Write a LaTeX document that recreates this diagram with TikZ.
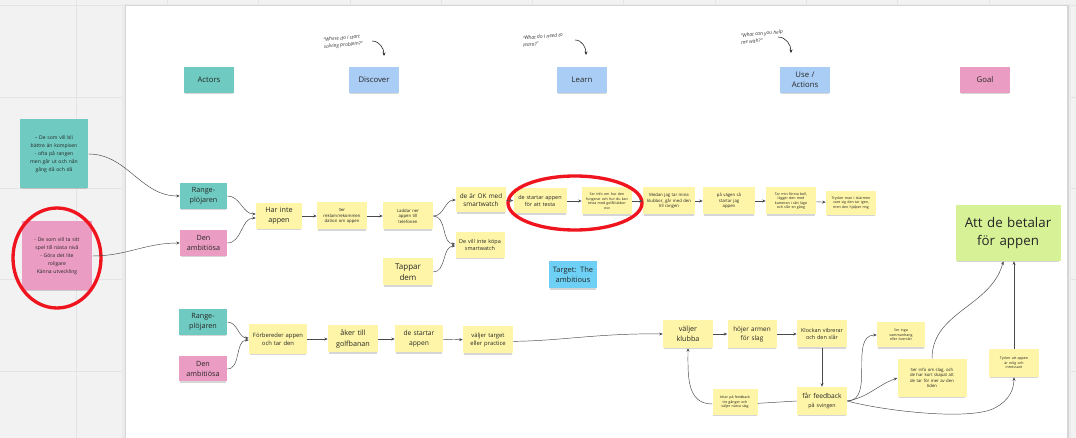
\documentclass[tikz,border=0pt]{standalone}
\usepackage{fontspec}
\setmainfont{Open Sans}
\usetikzlibrary{arrows.meta,shadows}

\definecolor{stTeal}{HTML}{6FCBC1}
\definecolor{stBlue}{HTML}{A9CDF4}
\definecolor{stPink}{HTML}{EA9CC2}
\definecolor{stYellow}{HTML}{FEF5A8}
\definecolor{stGreen}{HTML}{D6F196}
\definecolor{stCyan}{HTML}{6DD0F4}
\definecolor{canvasGray}{HTML}{F2F2F2}
\definecolor{gridGray}{HTML}{E4E4E4}
\definecolor{inkGray}{HTML}{4A4A4A}
\definecolor{txtGray}{HTML}{262626}
\definecolor{markRed}{HTML}{F0141E}

\begin{document}
\begin{tikzpicture}[x=0.75pt,y=-0.75pt,
  sticky/.style={rectangle, inner sep=0.8pt, align=center, text=txtGray,
    drop shadow={shadow xshift=0pt,shadow yshift=-1.3pt,shadow scale=0.97,opacity=0.16,fill=black}},
  wh/.style 2 args={minimum width=#1*0.75pt, minimum height=#2*0.75pt, text width=#1*0.75pt-2pt},
  yel/.style={sticky, fill=stYellow},
  tea/.style={sticky, fill=stTeal},
  blu/.style={sticky, fill=stBlue},
  pnk/.style={sticky, fill=stPink},
  fHead/.style={font=\fontsize{5.8}{7.2}\selectfont},
  fMid/.style={font=\fontsize{5.4}{7.6}\selectfont},
  fSm/.style={font=\fontsize{4.1}{5.4}\selectfont},
  fXs/.style={font=\fontsize{3.2}{4.1}\selectfont},
  fTiny/.style={font=\fontsize{2.7}{3.4}\selectfont},
  link/.style={draw=inkGray, line width=0.35pt, -{Stealth[length=2.6pt,width=2.2pt]}},
  plain/.style={draw=inkGray, line width=0.35pt},
  hand/.style={font=\fontsize{3.7}{5.2}\selectfont\itshape, text=black!80, align=left, rotate=5, inner sep=0pt},
  handarrow/.style={draw=black!85, line width=0.45pt, -{Stealth[length=2.6pt,width=2.2pt]}},
  ring/.style={draw=markRed, line width=2.5pt}
]
\useasboundingbox (0,0) rectangle (1076,438);

% canvas with grid
\fill[canvasGray] (0,0) rectangle (1076,438);
\foreach \gx in {0,...,11} \draw[gridGray, line width=0.5pt] (76+91.3*\gx,0) -- (76+91.3*\gx,438);
\foreach \gy in {0,...,4} \draw[gridGray, line width=0.5pt] (0,5.7+91.3*\gy) -- (1076,5.7+91.3*\gy);

% board
\fill[black!8] (122,4) rectangle (1071,440);
\fill[black!16] (124.5,5.2) rectangle (1068.5,440);
\fill[white] (126,6) rectangle (1067,440);

% column headers
\node[tea, fHead, wh={50}{26}] (actors) at (209,80) {Actors};
\node[blu, fHead, wh={50}{26}] (discover) at (374,80) {Discover};
\node[blu, fHead, wh={50}{26}] (learn) at (582,80) {Learn};
\node[blu, fHead, wh={50}{26}] (use) at (805,80) {Use /\\Actions};
\node[pnk, fHead, wh={50}{26}] (goal) at (985,80) {Goal};

% handwritten questions
\node[hand] (q1) at (343,42) {“Where do I start\\ solving problem?”};
\coordinate (q1e) at (384,56);
\draw[handarrow] (372,41) to[out=0,in=90] (q1e);
\node[hand] (q2) at (543,40) {“What do I need to\\ learn?”};
\coordinate (q2e) at (586,55);
\draw[handarrow] (575,40) to[out=0,in=90] (q2e);
\node[hand] (q3) at (762,37) {“What can you help\\ me with?”};
\coordinate (q3e) at (791,53);
\draw[handarrow] (778,37) to[out=0,in=90] (q3e);

% persona notes
\node[tea, font=\fontsize{3.8}{6}\selectfont, wh={68}{69}] (tealNote) at (54,154)
  {– De som vill bli\\bättre än kompisen\\- ofta på rangen\\men går ut och nån\\gång då och då};
\node[pnk, font=\fontsize{3.8}{6}\selectfont, wh={70}{69}] (pinkNote) at (57,256)
  {- De som vill ta sitt\\spel till nästa nivå\\- Göra det lite\\roligare\\Känna utveckling};
\draw[ring] (57,258) ellipse [x radius=44, y radius=50];

% top journey
\node[tea, fMid, wh={47}{26}] (rp1) at (203.5,196) {Range-\\plöjaren};
\node[pnk, fMid, wh={47}{26}] (da1) at (203.5,243) {Den\\ambitiösa};
\node[yel, fMid, wh={46}{26}] (har) at (279,216) {Har inte\\appen};
\node[yel, fXs, wh={50}{27}] (reklam) at (342,216) {Ser\\reklam/rekommen\\dation om appen};
\node[yel, fXs, wh={50}{27}] (laddar) at (408,216) {Laddar ner\\appen till\\telefonen};
\node[yel, font=\fontsize{6}{8}\selectfont, wh={50}{27}] (tappar) at (408,272) {Tappar\\dem};
\node[yel, font=\fontsize{4.8}{6.4}\selectfont, wh={50}{25}] (okw) at (481,200) {de är OK med\\smartwatch};
\node[yel, fSm, wh={49}{26}] (nokw) at (480,245) {De vill inte köpa\\smartwatch};
\node[yel, fSm, wh={53}{25}] (testa) at (540,201) {de startar appen\\för att testa};
\node[yel, fTiny, wh={50}{27}] (info) at (607,201) {Ser info om hur den\\fungerar och hur du kan\\testa med golfklubbor\\osv};
\node[yel, fXs, wh={52}{27}] (medan) at (669,201) {Medan jag tar mina\\klubbor, går med den\\till rangen};
\node[yel, fXs, wh={52}{27}] (vagen) at (729,201) {på vägen så\\startar jag\\appen};
\node[yel, fTiny, wh={50}{27}] (forsta) at (791,201) {Tar min första boll,\\lägger den med\\kameran i rätt läge\\och slår en gång};
\node[yel, fTiny, wh={50}{24}] (trycker) at (851,203) {Trycker man i skärmen\\vare sig den tar igen,\\men den hjälper mig};
\draw[ring] (575,203) ellipse [x radius=67, y radius=27];

\node[sticky, fill=stGreen, font=\fontsize{10}{13.6}\selectfont, wh={105}{56}] (betala) at (1008,233) {Att de betalar\\för appen};
\node[sticky, fill=stCyan, font=\fontsize{5.6}{7.4}\selectfont, wh={48}{27}] (target) at (573,275) {Target: The\\ambitious};

\draw[link] (tealNote.east) to[out=0,in=180] (rp1.west);
\draw[link] (pinkNote.east) to[out=0,in=180] (da1.west);
\draw[link] (rp1.east) to[out=0,in=180] ([yshift=1.5pt]har.west);
\draw[link] (da1.east) to[out=0,in=180] ([yshift=-1.5pt]har.west);
\draw[link] (har) -- (reklam);
\draw[link] (reklam) -- (laddar);
\draw[link] (laddar.east) to[out=0,in=180] (okw.west);
\draw[link] (laddar.east) to[out=0,in=180] ([yshift=0.8pt]nokw.west);
\draw[link] (tappar.east) to[out=0,in=180] ([yshift=-0.8pt]nokw.west);
\draw[link] (okw) -- (testa);
\draw[link] (testa) -- (info);
\draw[link] (info) -- (medan);
\draw[link] (medan) -- (vagen);
\draw[link] (vagen) -- (forsta);
\draw[link] (forsta) -- (trycker);

% bottom journey
\node[tea, fMid, wh={48}{26}] (rp2) at (203,322) {Range-\\plöjaren};
\node[pnk, fMid, wh={48}{25}] (da2) at (203,369) {Den\\ambitiösa};
\node[yel, font=\fontsize{4.4}{6.2}\selectfont, wh={58}{30}] (forb) at (278,339) {Förbereder appen\\och tar den};
\node[yel, fMid, wh={50}{27}] (aker) at (353,339) {åker till\\golfbanan};
\node[yel, font=\fontsize{5}{7.2}\selectfont, wh={48}{27}] (start2) at (419,339) {de startar\\appen};
\node[yel, font=\fontsize{4.4}{6.2}\selectfont, wh={50}{27}] (valjT) at (488,340) {väljer target\\eller practice};
\node[yel, fMid, wh={50}{28}] (valjK) at (688,334) {väljer\\klubba};
\node[yel, font=\fontsize{4.8}{6.8}\selectfont, wh={49}{28}] (hojer) at (752,334) {höjer armen\\för slag};
\node[yel, fSm, wh={50}{27}] (klockan) at (822,334) {Klockan vibrerar\\och den slår};
\node[yel, font=\fontsize{5}{6.4}\selectfont, wh={50}{28}] (feedback) at (822,401) {får feedback\\{\fontsize{4}{5}\selectfont på svingen}};
\node[yel, fTiny, wh={45}{26}] (titt) at (735,402) {tittar på feedback\\tre gånger och\\väljer nästa slag};
\node[yel, fTiny, wh={48}{25}] (inga) at (901,335) {Ser inga\\sammanhang\\eller översikt};
\node[yel, fXs, wh={69}{38}] (slag) at (932,378) {Ser info om slag, och\\de har kort skapat att\\de tar för mer av den\\tiden};
\node[yel, fTiny, wh={50}{28}] (tycker) at (1014,363) {Tycker att appen\\är rolig och\\intressant};

\draw[link] (rp2.east) to[out=0,in=180] ([yshift=0.8pt]forb.west);
\draw[link] (da2.east) to[out=0,in=180] ([yshift=-0.8pt]forb.west);
\draw[link] (forb) -- (aker);
\draw[link] (aker) -- (start2);
\draw[link] (start2) -- (valjT);
\draw[link] ([yshift=-1pt]valjT.east) .. controls (560,341) and (600,333) .. (valjK.west);
\draw[link] (valjK) -- (hojer);
\draw[link] (hojer) -- (klockan);
\draw[link] (klockan) -- (feedback);
\draw[plain] (feedback.west) -- ([yshift=-1pt]titt.east);
\draw[link] ([yshift=-1.5pt]titt.west) to[out=180,in=-90,looseness=1.1] (valjK.south);
\draw[link] (feedback.east) to[out=0,in=180] (inga.west);
\draw[link] (feedback.east) to[out=10,in=200] (slag.west);
\draw[link] (feedback.east) .. controls (880,410) and (960,420) .. (990,410) to[out=20,in=-90] (tycker.south);
\draw[link] (slag.north) to[out=90,in=-105] ([xshift=-3.5pt]betala.south);
\draw[link] (tycker.north) -- (tycker.north |- betala.south);

\end{tikzpicture}
\end{document}
